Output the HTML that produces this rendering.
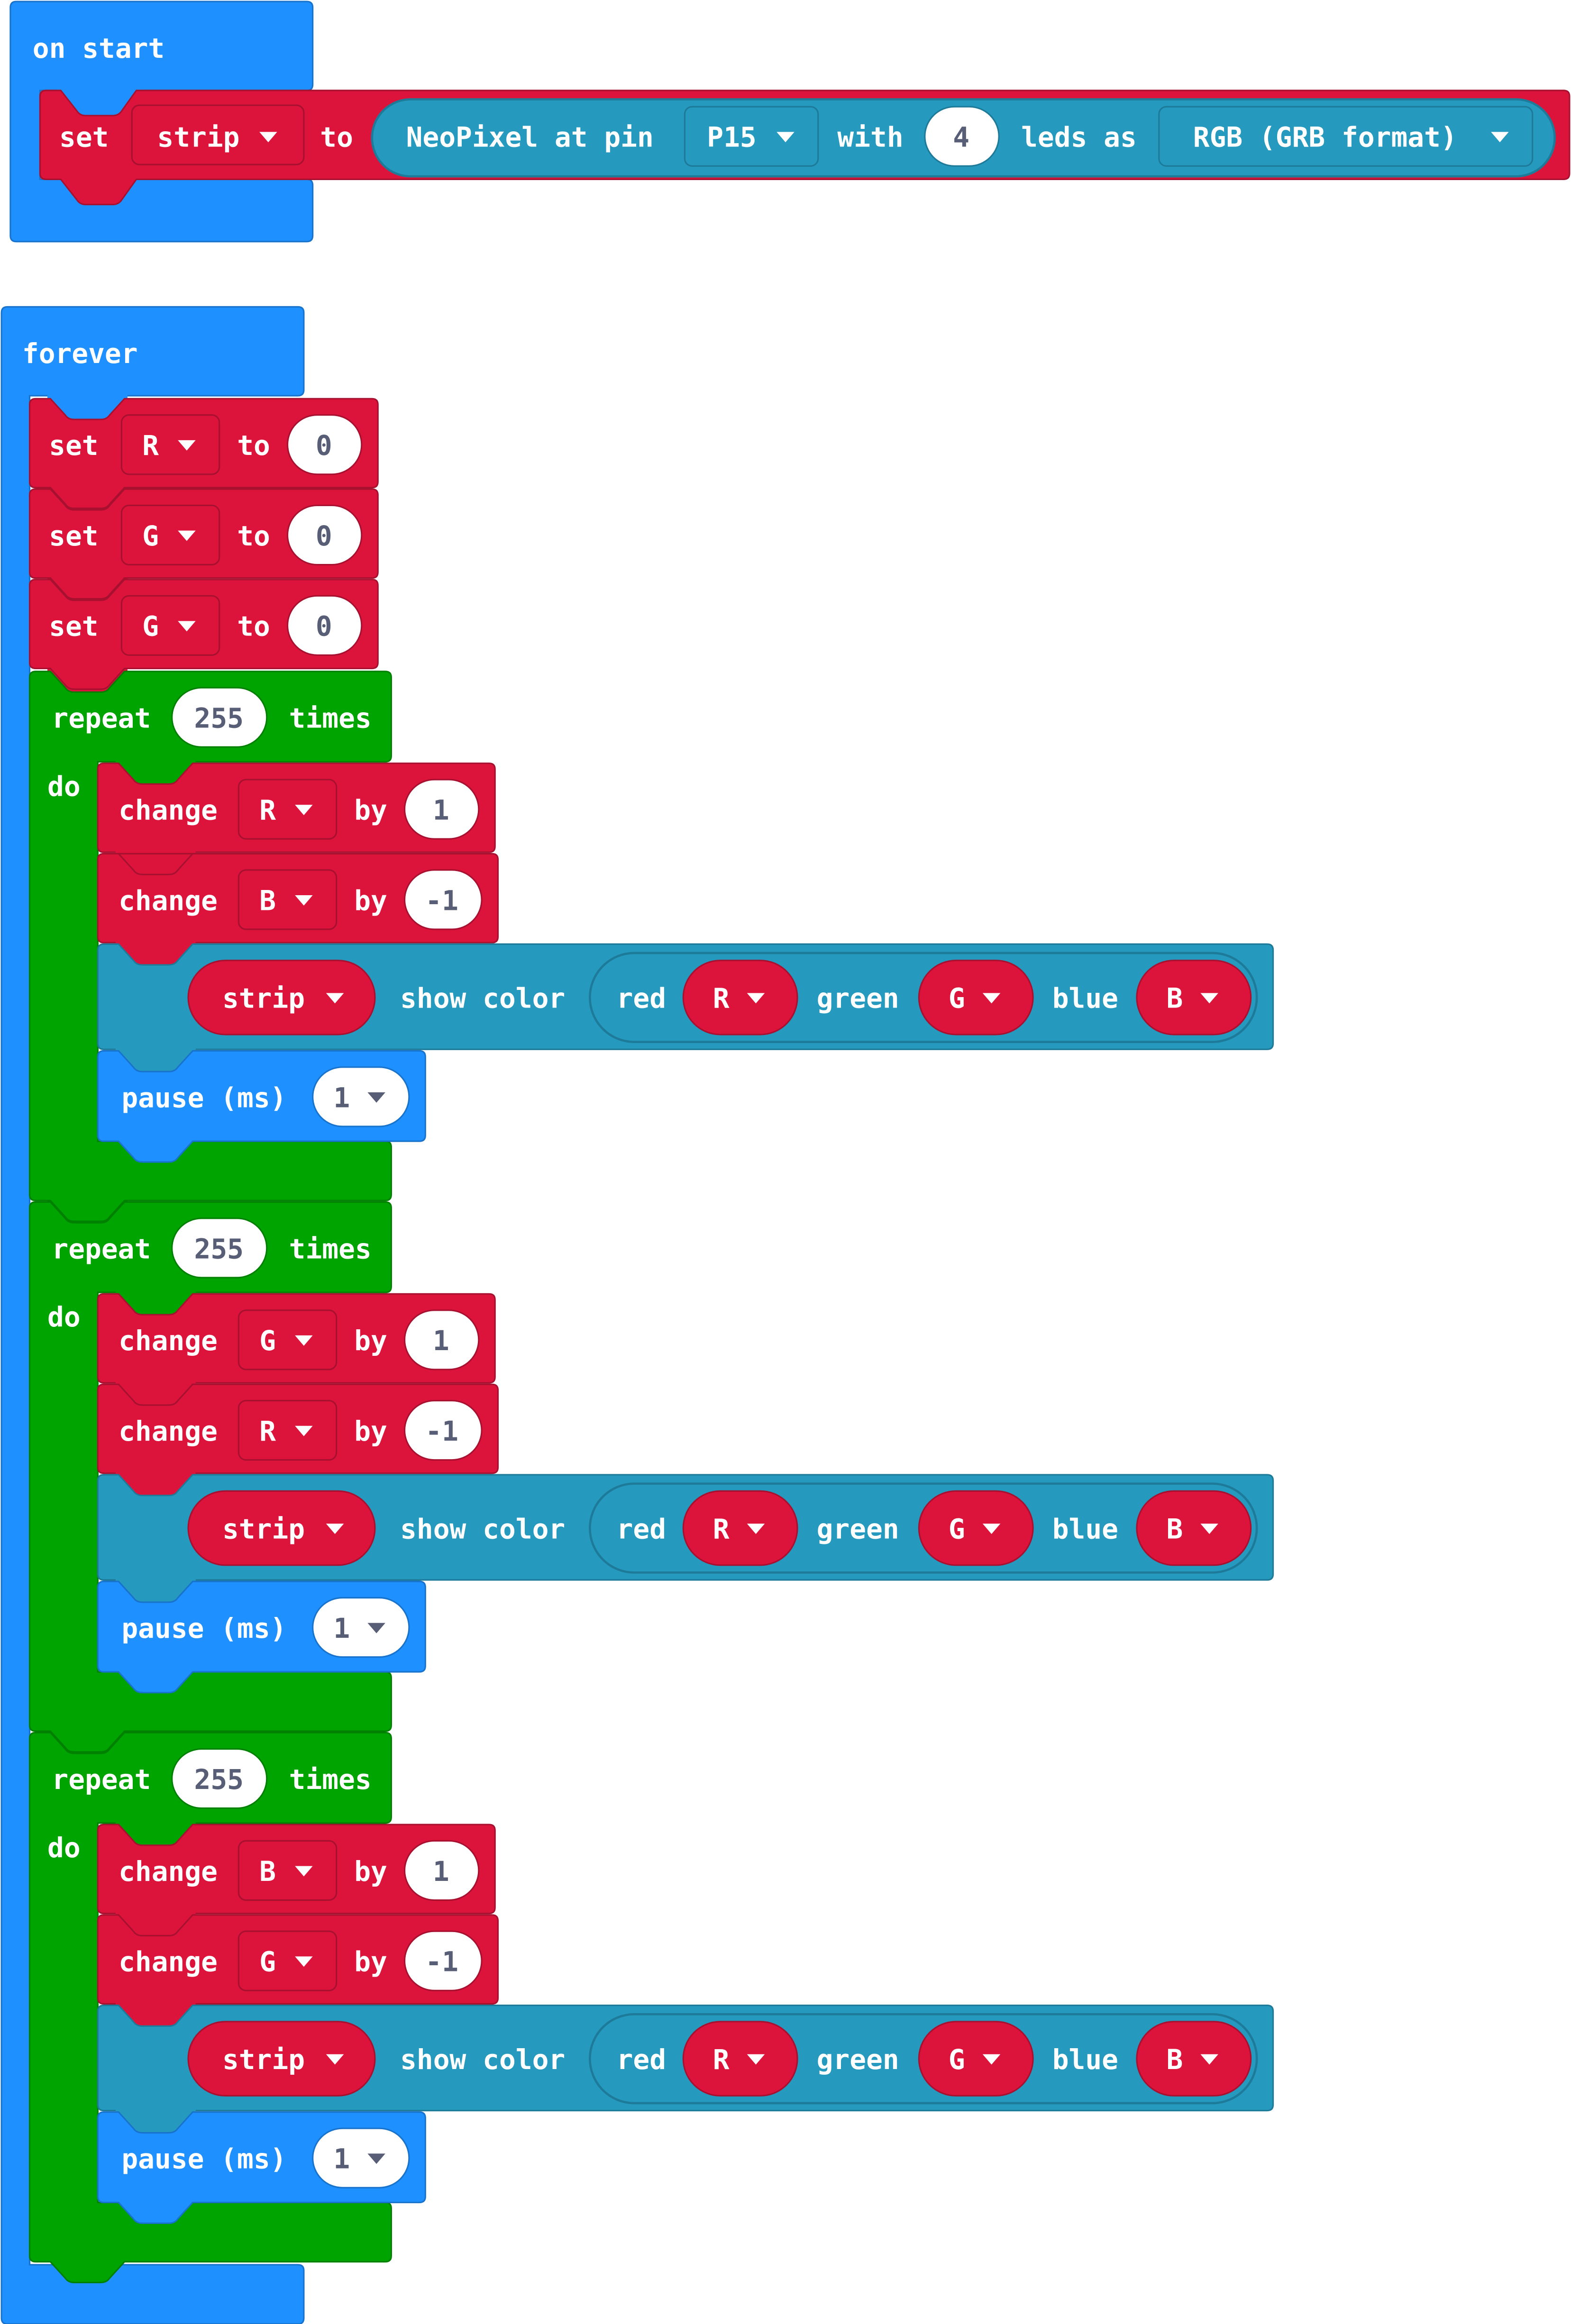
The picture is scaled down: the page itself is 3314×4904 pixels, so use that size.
<!DOCTYPE html>
<html><head><meta charset="utf-8"><style>
html,body{margin:0;padding:0;background:#fff;}
svg{display:block;}
text{font-family:"DejaVu Sans Mono","Liberation Mono",monospace;font-weight:bold;font-size:18.5px;fill:#fff;}
.g{fill:#575E75;}
</style></head><body>
<svg width="3314" height="4904" viewBox="0 0 1060 1568" preserveAspectRatio="none" xmlns="http://www.w3.org/2000/svg">
<defs>
<g id="arW"><polygon points="-6,-3 6,-3 0,4" fill="#fff"/></g>
<g id="arG"><polygon points="-6,-3 6,-3 0,4" fill="#575E75"/></g>
</defs>

<!-- on start -->
<path d="M11,1 H207 Q211,1 211,5 V57 Q211,61 207,61 H27 V121 H207 Q211,121 211,125 V159 Q211,163 207,163 H11 Q7,163 7,159 V5 Q7,1 11,1 Z" fill="#1E90FF" stroke="#1873CC" stroke-width="1"/>
<text x="22" y="39">on start</text>
<rect x="38" y="56" width="58" height="24" fill="#1E90FF"/>
<path d="M31,61 H41 L52,75 Q54,78 58,78 H76 Q80,78 82,75 L92,61 H1055 Q1059,61 1059,65 V117 Q1059,121 1055,121 H92 L82,135 Q80,138 76,138 H58 Q54,138 52,135 L41,121 H31 Q27,121 27,117 V65 Q27,61 31,61 Z" fill="#DC143C" stroke="#A81030" stroke-width="1"/>
<text x="40" y="99">set</text>
<rect x="89" y="71" width="116" height="40" rx="5" fill="#DC143C" stroke="#A81030"/>
<text x="106" y="99">strip</text><use href="#arW" x="181" y="92"/>
<text x="216" y="99">to</text>
<rect x="251" y="67" width="798" height="52" rx="26" fill="#2699BF" stroke="#1E7A99" stroke-width="1.5"/>
<text x="274" y="99">NeoPixel at pin</text>
<rect x="462" y="72" width="90" height="40" rx="5" fill="#2699BF" stroke="#1E7A99"/>
<text x="477" y="99">P15</text><use href="#arW" x="530" y="92"/>
<text x="565" y="99">with</text>
<rect x="624" y="72" width="50" height="40" rx="20" fill="#fff" stroke="#1E7A99"/>
<text x="643" y="99" class="g">4</text>
<text x="689" y="99">leds as</text>
<rect x="782" y="72" width="252" height="40" rx="5" fill="#2699BF" stroke="#1E7A99"/>
<text x="805" y="99">RGB (GRB format)</text><use href="#arW" x="1012" y="92"/>

<!-- forever -->
<path d="M5,207 H201 Q205,207 205,211 V263 Q205,267 201,267 H20 V1528 H201 Q205,1528 205,1532 V1564 Q205,1568 201,1568 H5 Q1,1568 1,1564 V211 Q1,207 5,207 Z" fill="#1E90FF" stroke="#1873CC" stroke-width="1"/>
<text x="15" y="245">forever</text>

<!-- fillers for notches -->
<rect x="32" y="265" width="54" height="20" fill="#1E90FF"/>
<rect x="32" y="326" width="54" height="20" fill="#DC143C"/>
<rect x="32" y="387" width="54" height="20" fill="#DC143C"/>
<rect x="32" y="449" width="54" height="20" fill="#DC143C"/>
<rect x="32" y="807" width="54" height="20" fill="#00A400"/>
<rect x="32" y="1165" width="54" height="20" fill="#00A400"/>

<!-- set blocks -->
<g>
<path d="M24,269 H34 L44,280 Q46,283 50,283 H68 Q72,283 74,280 L84,269 H251 Q255,269 255,273 V325 Q255,329 251,329 H84 L74,340 Q72,343 68,343 H50 Q46,343 44,340 L34,329 H24 Q20,329 20,325 V273 Q20,269 24,269 Z" fill="#DC143C" stroke="#A81030"/>
<text x="33" y="307">set</text>
<rect x="82" y="280" width="66" height="40" rx="5" fill="#DC143C" stroke="#A81030"/>
<text x="96" y="307">R</text><use href="#arW" x="126" y="300"/>
<text x="160" y="307">to</text>
<rect x="194" y="280" width="50" height="40" rx="20" fill="#fff" stroke="#A81030"/>
<text x="213" y="307" class="g">0</text>
</g>
<g transform="translate(0,61)">
<path d="M24,269 H34 L44,280 Q46,283 50,283 H68 Q72,283 74,280 L84,269 H251 Q255,269 255,273 V325 Q255,329 251,329 H84 L74,340 Q72,343 68,343 H50 Q46,343 44,340 L34,329 H24 Q20,329 20,325 V273 Q20,269 24,269 Z" fill="#DC143C" stroke="#A81030"/>
<text x="33" y="307">set</text>
<rect x="82" y="280" width="66" height="40" rx="5" fill="#DC143C" stroke="#A81030"/>
<text x="96" y="307">G</text><use href="#arW" x="126" y="300"/>
<text x="160" y="307">to</text>
<rect x="194" y="280" width="50" height="40" rx="20" fill="#fff" stroke="#A81030"/>
<text x="213" y="307" class="g">0</text>
</g>
<g transform="translate(0,122)">
<path d="M24,269 H34 L44,280 Q46,283 50,283 H68 Q72,283 74,280 L84,269 H251 Q255,269 255,273 V325 Q255,329 251,329 H84 L74,340 Q72,343 68,343 H50 Q46,343 44,340 L34,329 H24 Q20,329 20,325 V273 Q20,269 24,269 Z" fill="#DC143C" stroke="#A81030"/>
<text x="33" y="307">set</text>
<rect x="82" y="280" width="66" height="40" rx="5" fill="#DC143C" stroke="#A81030"/>
<text x="96" y="307">G</text><use href="#arW" x="126" y="300"/>
<text x="160" y="307">to</text>
<rect x="194" y="280" width="50" height="40" rx="20" fill="#fff" stroke="#A81030"/>
<text x="213" y="307" class="g">0</text>
</g>

<!-- repeat 1 -->
<g>
<path d="M24,453 H34 L44,464 Q46,467 50,467 H68 Q72,467 74,464 L84,453 H260 Q264,453 264,457 V510 Q264,514 260,514 H66 V770 H260 Q264,770 264,774 V806 Q264,810 260,810 H84 L74,821 Q72,824 68,824 H50 Q46,824 44,821 L34,810 H24 Q20,810 20,806 V457 Q20,453 24,453 Z" fill="#00A400" stroke="#008000"/>
<text x="35" y="491">repeat</text>
<rect x="116" y="464" width="64" height="40" rx="20" fill="#fff" stroke="#008000"/>
<text x="131" y="491" class="g">255</text>
<text x="195" y="491">times</text>
<text x="32" y="537">do</text>
<rect x="78" y="513" width="54" height="18" fill="#00A400"/>
<path d="M70,515 H80 L90,526 Q92,529 96,529 H114 Q118,529 120,526 L130,515 H330 Q334,515 334,519 V571 Q334,575 330,575 H70 Q66,575 66,571 V519 Q66,515 70,515 Z" fill="#DC143C" stroke="#A81030"/>
<text x="80" y="553">change</text>
<rect x="161" y="526" width="66" height="40" rx="5" fill="#DC143C" stroke="#A81030"/>
<text x="175" y="553">R</text><use href="#arW" x="205" y="546"/>
<text x="239" y="553">by</text>
<rect x="273" y="526" width="50" height="40" rx="20" fill="#fff" stroke="#A81030"/>
<text x="292" y="553" class="g">1</text>
<rect x="78" y="574" width="54" height="18" fill="#DC143C"/>
<path d="M70,576 H80 L90,587 Q92,590 96,590 H114 Q118,590 120,587 L130,576 H332 Q336,576 336,580 V632 Q336,636 332,636 H70 Q66,636 66,632 V580 Q66,576 70,576 Z" fill="#DC143C" stroke="#A81030"/>
<line x1="80" y1="576" x2="130" y2="576" stroke="#A81030"/>
<text x="80" y="614">change</text>
<rect x="161" y="587" width="66" height="40" rx="5" fill="#DC143C" stroke="#A81030"/>
<text x="175" y="614">B</text><use href="#arW" x="205" y="607"/>
<text x="239" y="614">by</text>
<rect x="273" y="587" width="52" height="40" rx="20" fill="#fff" stroke="#A81030"/>
<text x="287" y="614" class="g">-1</text>
<rect x="78" y="635" width="54" height="18" fill="#DC143C"/>
<path d="M70,637 H80 L90,648 Q92,651 96,651 H114 Q118,651 120,648 L130,637 H855 Q859,637 859,641 V704 Q859,708 855,708 H70 Q66,708 66,704 V641 Q66,637 70,637 Z" fill="#2699BF" stroke="#1E7A99"/>
<rect x="127" y="648" width="126" height="50" rx="25" fill="#DC143C" stroke="#A81030"/>
<text x="150" y="680">strip</text><use href="#arW" x="226" y="673"/>
<text x="270" y="680">show color</text>
<rect x="398" y="643" width="450" height="60" rx="30" fill="#2699BF" stroke="#1E7A99" stroke-width="1.5"/>
<text x="416" y="680">red</text>
<rect x="461" y="648" width="77" height="50" rx="25" fill="#DC143C" stroke="#A81030"/>
<text x="481" y="680">R</text><use href="#arW" x="510" y="673"/>
<text x="551" y="680">green</text>
<rect x="620" y="648" width="77" height="50" rx="25" fill="#DC143C" stroke="#A81030"/>
<text x="640" y="680">G</text><use href="#arW" x="669" y="673"/>
<text x="710" y="680">blue</text>
<rect x="767" y="648" width="77" height="50" rx="25" fill="#DC143C" stroke="#A81030"/>
<text x="787" y="680">B</text><use href="#arW" x="816" y="673"/>
<rect x="78" y="707" width="54" height="18" fill="#2699BF"/>
<path d="M70,709 H80 L90,720 Q92,723 96,723 H114 Q118,723 120,720 L130,709 H283 Q287,709 287,713 V766 Q287,770 283,770 H130 L120,781 Q118,784 114,784 H96 Q92,784 90,781 L80,770 H70 Q66,770 66,766 V713 Q66,709 70,709 Z" fill="#1E90FF" stroke="#1873CC"/>
<text x="82" y="747">pause (ms)</text>
<rect x="211" y="720" width="65" height="40" rx="20" fill="#fff" stroke="#1873CC"/>
<text x="225" y="747" class="g">1</text><use href="#arG" x="254" y="740"/>
</g>

<!-- repeat 2 -->
<g transform="translate(0,358)">
<path d="M24,453 H34 L44,464 Q46,467 50,467 H68 Q72,467 74,464 L84,453 H260 Q264,453 264,457 V510 Q264,514 260,514 H66 V770 H260 Q264,770 264,774 V806 Q264,810 260,810 H84 L74,821 Q72,824 68,824 H50 Q46,824 44,821 L34,810 H24 Q20,810 20,806 V457 Q20,453 24,453 Z" fill="#00A400" stroke="#008000"/>
<text x="35" y="491">repeat</text>
<rect x="116" y="464" width="64" height="40" rx="20" fill="#fff" stroke="#008000"/>
<text x="131" y="491" class="g">255</text>
<text x="195" y="491">times</text>
<text x="32" y="537">do</text>
<rect x="78" y="513" width="54" height="18" fill="#00A400"/>
<path d="M70,515 H80 L90,526 Q92,529 96,529 H114 Q118,529 120,526 L130,515 H330 Q334,515 334,519 V571 Q334,575 330,575 H70 Q66,575 66,571 V519 Q66,515 70,515 Z" fill="#DC143C" stroke="#A81030"/>
<text x="80" y="553">change</text>
<rect x="161" y="526" width="66" height="40" rx="5" fill="#DC143C" stroke="#A81030"/>
<text x="175" y="553">G</text><use href="#arW" x="205" y="546"/>
<text x="239" y="553">by</text>
<rect x="273" y="526" width="50" height="40" rx="20" fill="#fff" stroke="#A81030"/>
<text x="292" y="553" class="g">1</text>
<rect x="78" y="574" width="54" height="18" fill="#DC143C"/>
<path d="M70,576 H80 L90,587 Q92,590 96,590 H114 Q118,590 120,587 L130,576 H332 Q336,576 336,580 V632 Q336,636 332,636 H70 Q66,636 66,632 V580 Q66,576 70,576 Z" fill="#DC143C" stroke="#A81030"/>
<text x="80" y="614">change</text>
<rect x="161" y="587" width="66" height="40" rx="5" fill="#DC143C" stroke="#A81030"/>
<text x="175" y="614">R</text><use href="#arW" x="205" y="607"/>
<text x="239" y="614">by</text>
<rect x="273" y="587" width="52" height="40" rx="20" fill="#fff" stroke="#A81030"/>
<text x="287" y="614" class="g">-1</text>
<rect x="78" y="635" width="54" height="18" fill="#DC143C"/>
<path d="M70,637 H80 L90,648 Q92,651 96,651 H114 Q118,651 120,648 L130,637 H855 Q859,637 859,641 V704 Q859,708 855,708 H70 Q66,708 66,704 V641 Q66,637 70,637 Z" fill="#2699BF" stroke="#1E7A99"/>
<rect x="127" y="648" width="126" height="50" rx="25" fill="#DC143C" stroke="#A81030"/>
<text x="150" y="680">strip</text><use href="#arW" x="226" y="673"/>
<text x="270" y="680">show color</text>
<rect x="398" y="643" width="450" height="60" rx="30" fill="#2699BF" stroke="#1E7A99" stroke-width="1.5"/>
<text x="416" y="680">red</text>
<rect x="461" y="648" width="77" height="50" rx="25" fill="#DC143C" stroke="#A81030"/>
<text x="481" y="680">R</text><use href="#arW" x="510" y="673"/>
<text x="551" y="680">green</text>
<rect x="620" y="648" width="77" height="50" rx="25" fill="#DC143C" stroke="#A81030"/>
<text x="640" y="680">G</text><use href="#arW" x="669" y="673"/>
<text x="710" y="680">blue</text>
<rect x="767" y="648" width="77" height="50" rx="25" fill="#DC143C" stroke="#A81030"/>
<text x="787" y="680">B</text><use href="#arW" x="816" y="673"/>
<rect x="78" y="707" width="54" height="18" fill="#2699BF"/>
<path d="M70,709 H80 L90,720 Q92,723 96,723 H114 Q118,723 120,720 L130,709 H283 Q287,709 287,713 V766 Q287,770 283,770 H130 L120,781 Q118,784 114,784 H96 Q92,784 90,781 L80,770 H70 Q66,770 66,766 V713 Q66,709 70,709 Z" fill="#1E90FF" stroke="#1873CC"/>
<text x="82" y="747">pause (ms)</text>
<rect x="211" y="720" width="65" height="40" rx="20" fill="#fff" stroke="#1873CC"/>
<text x="225" y="747" class="g">1</text><use href="#arG" x="254" y="740"/>
</g>

<!-- repeat 3 -->
<g transform="translate(0,716)">
<path d="M24,453 H34 L44,464 Q46,467 50,467 H68 Q72,467 74,464 L84,453 H260 Q264,453 264,457 V510 Q264,514 260,514 H66 V770 H260 Q264,770 264,774 V806 Q264,810 260,810 H84 L74,821 Q72,824 68,824 H50 Q46,824 44,821 L34,810 H24 Q20,810 20,806 V457 Q20,453 24,453 Z" fill="#00A400" stroke="#008000"/>
<text x="35" y="491">repeat</text>
<rect x="116" y="464" width="64" height="40" rx="20" fill="#fff" stroke="#008000"/>
<text x="131" y="491" class="g">255</text>
<text x="195" y="491">times</text>
<text x="32" y="537">do</text>
<rect x="78" y="513" width="54" height="18" fill="#00A400"/>
<path d="M70,515 H80 L90,526 Q92,529 96,529 H114 Q118,529 120,526 L130,515 H330 Q334,515 334,519 V571 Q334,575 330,575 H70 Q66,575 66,571 V519 Q66,515 70,515 Z" fill="#DC143C" stroke="#A81030"/>
<text x="80" y="553">change</text>
<rect x="161" y="526" width="66" height="40" rx="5" fill="#DC143C" stroke="#A81030"/>
<text x="175" y="553">B</text><use href="#arW" x="205" y="546"/>
<text x="239" y="553">by</text>
<rect x="273" y="526" width="50" height="40" rx="20" fill="#fff" stroke="#A81030"/>
<text x="292" y="553" class="g">1</text>
<rect x="78" y="574" width="54" height="18" fill="#DC143C"/>
<path d="M70,576 H80 L90,587 Q92,590 96,590 H114 Q118,590 120,587 L130,576 H332 Q336,576 336,580 V632 Q336,636 332,636 H70 Q66,636 66,632 V580 Q66,576 70,576 Z" fill="#DC143C" stroke="#A81030"/>
<text x="80" y="614">change</text>
<rect x="161" y="587" width="66" height="40" rx="5" fill="#DC143C" stroke="#A81030"/>
<text x="175" y="614">G</text><use href="#arW" x="205" y="607"/>
<text x="239" y="614">by</text>
<rect x="273" y="587" width="52" height="40" rx="20" fill="#fff" stroke="#A81030"/>
<text x="287" y="614" class="g">-1</text>
<rect x="78" y="635" width="54" height="18" fill="#DC143C"/>
<path d="M70,637 H80 L90,648 Q92,651 96,651 H114 Q118,651 120,648 L130,637 H855 Q859,637 859,641 V704 Q859,708 855,708 H70 Q66,708 66,704 V641 Q66,637 70,637 Z" fill="#2699BF" stroke="#1E7A99"/>
<rect x="127" y="648" width="126" height="50" rx="25" fill="#DC143C" stroke="#A81030"/>
<text x="150" y="680">strip</text><use href="#arW" x="226" y="673"/>
<text x="270" y="680">show color</text>
<rect x="398" y="643" width="450" height="60" rx="30" fill="#2699BF" stroke="#1E7A99" stroke-width="1.5"/>
<text x="416" y="680">red</text>
<rect x="461" y="648" width="77" height="50" rx="25" fill="#DC143C" stroke="#A81030"/>
<text x="481" y="680">R</text><use href="#arW" x="510" y="673"/>
<text x="551" y="680">green</text>
<rect x="620" y="648" width="77" height="50" rx="25" fill="#DC143C" stroke="#A81030"/>
<text x="640" y="680">G</text><use href="#arW" x="669" y="673"/>
<text x="710" y="680">blue</text>
<rect x="767" y="648" width="77" height="50" rx="25" fill="#DC143C" stroke="#A81030"/>
<text x="787" y="680">B</text><use href="#arW" x="816" y="673"/>
<rect x="78" y="707" width="54" height="18" fill="#2699BF"/>
<path d="M70,709 H80 L90,720 Q92,723 96,723 H114 Q118,723 120,720 L130,709 H283 Q287,709 287,713 V766 Q287,770 283,770 H130 L120,781 Q118,784 114,784 H96 Q92,784 90,781 L80,770 H70 Q66,770 66,766 V713 Q66,709 70,709 Z" fill="#1E90FF" stroke="#1873CC"/>
<text x="82" y="747">pause (ms)</text>
<rect x="211" y="720" width="65" height="40" rx="20" fill="#fff" stroke="#1873CC"/>
<text x="225" y="747" class="g">1</text><use href="#arG" x="254" y="740"/>
</g>
</svg>
</body></html>
